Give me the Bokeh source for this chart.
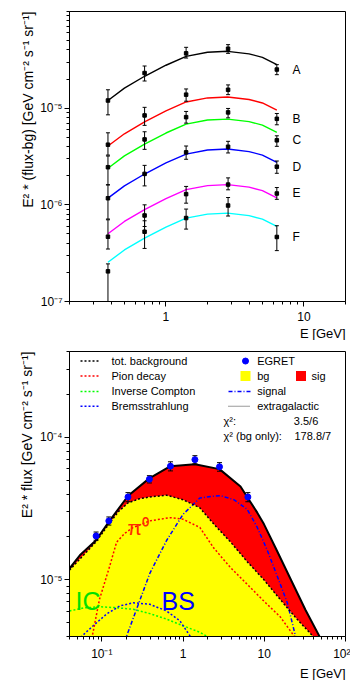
import math
from bokeh.plotting import figure
from bokeh.layouts import column
from bokeh.models import FixedTicker, CustomJSTickFormatter, Label, Range1d, Title
from bokeh.embed import file_html
from bokeh.resources import INLINE

FONT = "Liberation Sans"

# ---------------- top panel data (E^2 * (flux - bg)) ----------------
energy_top = [0.38, 0.70, 1.40, 2.82, 6.36]
series_names = ["A", "B", "C", "D", "E", "F"]
series_colors = ["#000000", "#ff0000", "#00ff00", "#0000ff", "#ff00ff", "#00ffff"]

flux_A = [1.20e-5, 2.31e-5, 3.69e-5, 4.12e-5, 2.51e-5]
hi_A = [1.55e-5, 2.73e-5, 4.26e-5, 4.54e-5, 2.82e-5]
lo_A = [8.53e-6, 1.91e-5, 3.30e-5, 3.69e-5, 2.22e-5]
flux_B = [4.19e-6, 8.41e-6, 1.38e-5, 1.55e-5, 7.76e-6]
hi_B = [5.56e-6, 1.02e-5, 1.58e-5, 1.74e-5, 8.81e-6]
lo_B = [3.27e-6, 6.64e-6, 1.18e-5, 1.38e-5, 6.73e-6]
flux_C = [2.45e-6, 4.75e-6, 8.07e-6, 9.04e-6, 4.65e-6]
hi_C = [3.20e-6, 5.70e-6, 9.25e-6, 9.93e-6, 5.18e-6]
lo_C = [1.61e-6, 3.75e-6, 7.00e-6, 7.94e-6, 4.03e-6]
flux_D = [1.17e-6, 2.09e-6, 3.49e-6, 3.99e-6, 2.48e-6]
hi_D = [1.61e-6, 2.56e-6, 4.06e-6, 4.54e-6, 2.84e-6]
lo_D = [7.13e-7, 1.57e-6, 2.96e-6, 3.44e-6, 2.12e-6]
flux_E = [4.68e-7, 7.76e-7, 1.29e-6, 1.62e-6, 1.31e-6]
hi_E = [7.00e-7, 1.00e-6, 1.55e-6, 1.90e-6, 1.51e-6]
lo_E = [3.49e-7, 5.97e-7, 1.04e-6, 1.43e-6, 1.14e-6]
flux_F = [2.05e-7, 5.27e-7, 7.30e-7, 9.84e-7, 4.65e-7]
hi_F = [2.45e-7, 6.84e-7, 9.04e-7, 1.19e-6, 6.08e-7]
lo_F = [0.0, 3.54e-7, 5.61e-7, 7.66e-7, 3.36e-7]

energy_curve = [0.38, 0.5, 0.7, 1.0, 1.4, 2.0, 2.8, 4.0, 5.0, 6.36]
curve_A = [1.202e-5, 1.611e-5, 2.138e-5, 2.780e-5, 3.436e-5, 3.784e-5, 3.873e-5, 3.648e-5, 3.357e-5, 2.825e-5]
curve_B = [4.055e-6, 5.433e-6, 7.211e-6, 9.376e-6, 1.159e-5, 1.276e-5, 1.306e-5, 1.230e-5, 1.132e-5, 9.528e-6]
curve_C = [2.393e-6, 3.206e-6, 4.256e-6, 5.534e-6, 6.839e-6, 7.534e-6, 7.709e-6, 7.261e-6, 6.683e-6, 5.623e-6]
curve_D = [1.172e-6, 1.570e-6, 2.084e-6, 2.710e-6, 3.350e-6, 3.690e-6, 3.776e-6, 3.556e-6, 3.273e-6, 2.754e-6]
curve_E = [5.023e-7, 6.730e-7, 8.933e-7, 1.161e-6, 1.435e-6, 1.581e-6, 1.618e-6, 1.524e-6, 1.403e-6, 1.180e-6]
curve_F = [2.547e-7, 3.412e-7, 4.529e-7, 5.888e-7, 7.278e-7, 8.017e-7, 8.204e-7, 7.727e-7, 7.112e-7, 5.984e-7]

# ---------------- bottom panel data (E^2 * flux) ----------------
egret_E = [0.085, 0.122, 0.21, 0.385, 0.70, 1.40, 2.81, 6.28]
egret_F = [2.03e-5, 2.59e-5, 3.81e-5, 5.08e-5, 6.27e-5, 6.97e-5, 6.21e-5, 3.81e-5]
egret_err = [1.34e-6, 1.7e-6, 2.8e-6, 3.0e-6, 4.6e-6, 4.6e-6, 4.3e-6, 2.8e-6]

total_E = [0.04, 0.0536, 0.0843, 0.122, 0.211, 0.384, 0.70, 1.40, 2.81, 5.1, 6.28, 8.2, 9.9, 13.8, 22.1, 32.2, 48.4, 60]
total_F = [1.20e-5, 1.486e-5, 1.887e-5, 2.55e-5, 3.89e-5, 5.15e-5, 6.27e-5, 6.47e-5, 5.98e-5, 4.52e-5, 3.75e-5,
           2.96e-5, 2.46e-5, 1.67e-5, 9.58e-6, 6.14e-6, 3.96e-6, 3.1e-6]

bg_E = [0.04, 0.0843, 0.122, 0.160, 0.211, 0.29, 0.384, 0.627, 1.0, 1.61, 2.39, 3.85, 6.17, 9.9, 15.7, 25.2, 40.8, 60]
bg_F = [1.17e-5, 1.84e-5, 2.46e-5, 3.01e-5, 3.47e-5, 3.70e-5, 3.81e-5, 3.92e-5, 3.65e-5, 3.20e-5, 2.46e-5,
        1.84e-5, 1.34e-5, 1.0e-5, 7.28e-6, 5.30e-6, 3.96e-6, 3.1e-6]

pion_E = [0.07, 0.0762, 0.0935, 0.1245, 0.152, 0.192, 0.243, 0.39, 0.687, 1.0, 1.61, 2.39, 3.85, 6.17, 9.9, 15.7, 23.1, 30]
pion_F = [3.2e-6, 4.0e-6, 7.28e-6, 1.236e-5, 1.837e-5, 2.12e-5, 2.33e-5, 2.59e-5, 2.73e-5, 2.66e-5, 2.33e-5,
          1.67e-5, 1.216e-5, 9.29e-6, 7.08e-6, 5.50e-6, 4.06e-6, 3.3e-6]

ic_E = [0.04, 0.059, 0.0935, 0.152, 0.243, 0.39, 0.627, 1.0, 1.61, 1.99, 3.0]
ic_F = [6.04e-6, 6.34e-6, 6.47e-6, 6.37e-6, 6.21e-6, 5.79e-6, 5.30e-6, 4.76e-6, 4.28e-6, 4.0e-6, 3.5e-6]

bs_E = [0.05, 0.0562, 0.0783, 0.114, 0.166, 0.243, 0.39, 0.627, 0.912, 1.21, 1.4]
bs_F = [3.5e-6, 4.0e-6, 4.76e-6, 5.74e-6, 6.55e-6, 6.90e-6, 6.73e-6, 6.04e-6, 5.16e-6, 4.06e-6, 3.5e-6]

signal_E = [0.18, 0.201, 0.39, 0.627, 1.0, 1.61, 2.39, 2.90, 4.22, 6.17, 8.2, 10.9, 14.5, 19.2, 24.3, 28]
signal_F = [3.2e-6, 4.0e-6, 1.11e-5, 1.887e-5, 2.88e-5, 3.75e-5, 3.86e-5, 3.89e-5, 3.65e-5, 3.12e-5, 2.33e-5,
            1.61e-5, 1.054e-5, 6.90e-6, 4.0e-6, 3.0e-6]

legend_left = ["tot. background", "Pion decay", "Inverse Compton", "Bremsstrahlung"]
legend_left_colors = ["#000000", "#ff0000", "#00ff00", "#0000ff"]
chi2_fit = "3.5/6"
chi2_bg = "178.8/7"

# ---------------- helpers ----------------
TICK_JS = """
const e = Math.round(Math.log10(tick));
if (e === 0) return "1";
if (e === 1) return "10";
const m = {"-":"\\u207b","0":"\\u2070","1":"\\u00b9","2":"\\u00b2","3":"\\u00b3","4":"\\u2074",
           "5":"\\u2075","6":"\\u2076","7":"\\u2077","8":"\\u2078","9":"\\u2079"};
return "10" + String(e).split("").map(c => m[c]).join("");
"""

W = 350
FL, FR, FW, FH = 69, 5, 276, 290
TOP_BORDER = 11
BOTTOM_BORDER = 39


def make_fig(xr, yr):
    p = figure(width=W, height=TOP_BORDER + FH + BOTTOM_BORDER, x_axis_type="log", y_axis_type="log",
               x_range=Range1d(*xr), y_range=Range1d(*yr),
               output_backend="svg", toolbar_location=None, title=None,
               min_border_left=FL, min_border_right=FR,
               min_border_top=TOP_BORDER, min_border_bottom=BOTTOM_BORDER)
    p.xgrid.visible = False
    p.ygrid.visible = False
    p.outline_line_color = "black"
    p.outline_line_width = 1
    p.outline_line_alpha = 1
    p.background_fill_color = "white"
    p.border_fill_color = "white"
    return p


def style_axes(p, xt, xminor, yt, yminor):
    p.xaxis.ticker = FixedTicker(ticks=xt, minor_ticks=xminor)
    p.yaxis.ticker = FixedTicker(ticks=yt, minor_ticks=yminor)
    for ax in (p.xaxis[0], p.yaxis[0]):
        ax.formatter = CustomJSTickFormatter(code=TICK_JS)
        ax.axis_line_color = "black"
        ax.major_tick_line_color = "black"
        ax.minor_tick_line_color = "black"
        ax.major_tick_in = 0
        ax.major_tick_out = 5
        ax.minor_tick_in = 0
        ax.minor_tick_out = 3
        ax.major_label_text_font = FONT
        ax.major_label_text_font_size = "12px"
        ax.major_label_text_color = "black"
    p.xaxis.major_label_standoff = 5
    p.yaxis.major_label_standoff = 2


def add_titles(p, xlabel, ylabel):
    p.add_layout(Title(text=ylabel, align="right", text_font=FONT, text_font_size="14px",
                       text_font_style="normal", text_color="black", standoff=3, offset=0), "left")
    p.add_layout(Title(text=xlabel, align="right", text_font=FONT, text_font_size="13px",
                       text_font_style="normal", text_color="black", standoff=0, offset=0), "below")


def mapper(xr, yr, left, top):
    # maps reference-picture pixel positions (relative to the reference frame) to data coordinates
    lx0, lx1 = math.log10(xr[0]), math.log10(xr[1])
    ly0, ly1 = math.log10(yr[0]), math.log10(yr[1])

    def f(px, py):
        x = 10 ** (lx0 + (px - left) / FW * (lx1 - lx0))
        y = 10 ** (ly1 - (py - top) / FH * (ly1 - ly0))
        return x, y
    return f


def add_label(p, pos, text, size, color="black", align="left", baseline="middle"):
    p.add_layout(Label(x=pos[0], y=pos[1], text=text, text_font=FONT, text_font_size=size,
                       text_color=color, text_align=align, text_baseline=baseline))


def minors(decades, ks):
    return [k * 10.0 ** d for d in decades for k in ks]


# ---------------- top figure ----------------
top_xr = (0.2, 20.0)
top_yr = (1e-7, 1e-4)
top = make_fig(top_xr, top_yr)
style_axes(top, [1, 10], minors([-1], range(2, 10)) + minors([0], range(2, 10)) + [20],
           [1e-7, 1e-6, 1e-5], minors([-7, -6, -5], range(2, 10)) + [1e-4])
add_titles(top, "E [GeV]", "E\u00b2 * (flux-bg) [GeV cm\u207b\u00b2 s\u207b\u00b9 sr\u207b\u00b9]")
tmap = mapper(top_xr, top_yr, 69, 11)

fluxes = [flux_A, flux_B, flux_C, flux_D, flux_E, flux_F]
his = [hi_A, hi_B, hi_C, hi_D, hi_E, hi_F]
los = [lo_A, lo_B, lo_C, lo_D, lo_E, lo_F]
curves = [curve_A, curve_B, curve_C, curve_D, curve_E, curve_F]
floor = 1e-9
for name, col, fl, hi, lo, cv in zip(series_names, series_colors, fluxes, his, los, curves):
    top.line(energy_curve, cv, line_color=col, line_width=1.4)
    lo_p = [max(v, floor) for v in lo]
    top.segment(x0=energy_top, y0=lo_p, x1=energy_top, y1=hi, line_color="black", line_width=1)
    top.scatter(energy_top, hi, marker="dash", size=4, line_color="black", line_width=1)
    top.scatter(energy_top, lo_p, marker="dash", size=4, line_color="black", line_width=1)
    top.scatter(energy_top, fl, marker="square", size=3.5, fill_color="black", line_color="black")
    lx, _ = tmap(292, 0)
    add_label(top, (lx, fl[-1]), name, "12px")

# ---------------- bottom figure ----------------
bot_xr = (0.04, 100.0)
bot_yr = (4e-6, 4e-4)
bot = make_fig(bot_xr, bot_yr)
style_axes(bot, [0.1, 1, 10, 100],
           minors([-2], range(4, 10)) + minors([-1, 0, 1], range(2, 10)),
           [1e-5, 1e-4], minors([-6], range(4, 10)) + minors([-5], range(2, 10)) + minors([-4], range(2, 5)))
add_titles(bot, "E [GeV]", "E\u00b2 * flux [GeV cm\u207b\u00b2 s\u207b\u00b9 sr\u207b\u00b9]")
bmap = mapper(bot_xr, bot_yr, 69, 351)

base = 1e-8
bot.patch(bg_E + [bg_E[-1], bg_E[0]], bg_F + [base, base], fill_color="#ffff00", line_color=None)
bot.patch(total_E + bg_E[::-1], total_F + bg_F[::-1], fill_color="#ff0000", line_color=None)

bot.line(ic_E, ic_F, line_color="#00ff00", line_width=1.5, line_dash="2 2")
bot.line(bs_E, bs_F, line_color="#0000ff", line_width=1.5, line_dash="2 2")
bot.line(pion_E, pion_F, line_color="#ff0000", line_width=1.5, line_dash="2 2")
bot.line(signal_E, signal_F, line_color="#0000ff", line_width=1.5, line_dash="4 2 1 2")
bot.line(bg_E, bg_F, line_color="black", line_width=1.5, line_dash="2 2")
bot.line(total_E, total_F, line_color="black", line_width=2)

e_hi = [f + e for f, e in zip(egret_F, egret_err)]
e_lo = [f - e for f, e in zip(egret_F, egret_err)]
bot.segment(x0=egret_E, y0=e_lo, x1=egret_E, y1=e_hi, line_color="black", line_width=1)
bot.scatter(egret_E, e_hi, marker="dash", size=5, line_color="black")
bot.scatter(egret_E, e_lo, marker="dash", size=5, line_color="black")
bot.scatter(egret_E, egret_F, marker="circle", size=6, fill_color="#0000ff", line_color="#0000ff")

add_label(bot, bmap(75, 605), "IC", "25px", color="#00e000", baseline="alphabetic")
add_label(bot, bmap(161, 605), "BS", "25px", color="#0000ff", baseline="alphabetic")
add_label(bot, bmap(127, 530), "\u03c0\u2070", "21px", color="#ff2a00", baseline="alphabetic")

# legend (left column)
rows = [360.7, 376, 391.7, 406.7]
for txt, col, ry in zip(legend_left, legend_left_colors, rows):
    (x0, y0), (x1, _) = bmap(80, ry), bmap(100, ry)
    bot.line([x0, x1], [y0, y0], line_color=col, line_width=1.5, line_dash="2 2")
    add_label(bot, bmap(111, ry), txt, "11px")

# legend (right column)
mx, my = bmap(245, rows[0])
bot.scatter([mx], [my], marker="circle", size=6, fill_color="#0000ff", line_color="#0000ff")
add_label(bot, bmap(256.7, rows[0]), "EGRET", "11px")
sx, sy = bmap(245, rows[1])
bot.scatter([sx], [sy], marker="square", size=10, fill_color="#ffff00", line_color=None)
add_label(bot, bmap(256.7, rows[1]), "bg", "11px")
rx, ry_ = bmap(300.5, rows[1])
bot.scatter([rx], [ry_], marker="square", size=10, fill_color="#ff0000", line_color=None)
add_label(bot, bmap(311, rows[1]), "sig", "11px")
(a0, b0), (a1, _) = bmap(228, rows[2]), bmap(250, rows[2])
bot.line([a0, a1], [b0, b0], line_color="#0000ff", line_width=1.5, line_dash="4 2 1 2")
add_label(bot, bmap(256.7, rows[2]), "signal", "11px")
(a0, b0), (a1, _) = bmap(228, rows[3]), bmap(250, rows[3])
bot.line([a0, a1], [b0, b0], line_color="black", line_width=0.8, line_dash="1 1")
add_label(bot, bmap(256.7, rows[3]), "extragalactic", "11px")
add_label(bot, bmap(223, 421.7), "\u03c7\u00b2:", "11px")
add_label(bot, bmap(293.3, 421.7), chi2_fit, "11px")
add_label(bot, bmap(223, 436.7), "\u03c7\u00b2 (bg only):", "11px")
add_label(bot, bmap(294, 436.7), chi2_bg, "11px")

layout = column(top, bot, spacing=0)
open("out.html", "w").write(file_html(layout, INLINE))
